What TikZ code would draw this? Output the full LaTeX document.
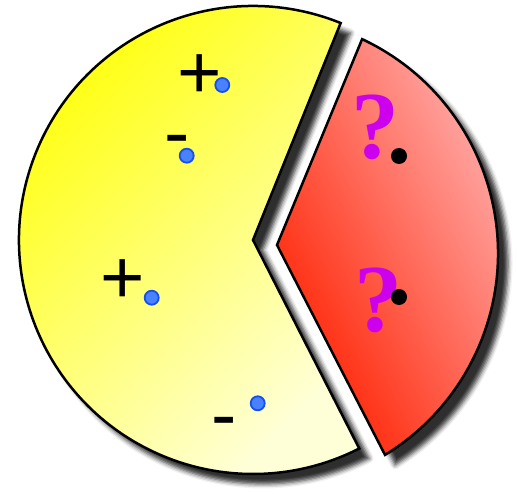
\documentclass[tikz,border=0pt]{standalone}
\usepackage{fontspec}
\usepackage{tikz}
\usetikzlibrary{calc, shadows.blur}
\newfontfamily\signfont{Liberation Sans}
\newfontfamily\qfont{Liberation Serif}
\definecolor{yellowTop}{RGB}{255,255,0}
\definecolor{yellowBot}{RGB}{255,255,215}
\definecolor{redPink}{RGB}{255,182,182}
\definecolor{redDeep}{RGB}{255,32,0}
\definecolor{ballFill}{RGB}{72,130,255}
\definecolor{ballEdge}{RGB}{22,78,240}
\definecolor{qColor}{RGB}{204,0,236}

\begin{document}
\begin{tikzpicture}[
  x=1pt, y=1pt,
  piece/.style={draw=black, line width=2.5pt,
    blur shadow={shadow xshift=10pt, shadow yshift=-10pt,
      shadow blur radius=4.5pt, shadow opacity=82}},
  ball/.style={circle, draw=ballEdge, fill=ballFill, line width=1.8pt,
    minimum size=14pt, inner sep=0pt},
  blackdot/.style={circle, fill=black, minimum size=16pt, inner sep=0pt},
  sign/.style={font=\signfont\fontsize{76}{76}\selectfont, anchor=base, inner sep=0pt},
  qmark/.style={font=\qfont\bfseries\fontsize{96}{96}\selectfont, text=qColor,
    anchor=base, inner sep=0pt}
]
  \useasboundingbox (0,0) rectangle (518,493);

  \coordinate (ycen) at (253,253);
  \coordinate (rcen) at (261.4,239.8);
  \coordinate (rtip) at (277,248);

  % the big piece
  \path[piece, top color=yellowTop, bottom color=yellowBot, shading angle=45]
    (ycen) -- ++(68:234pt) arc[start angle=68, end angle=297, radius=234pt] -- cycle;

  % the cut out wedge
  \path[piece, top color=redPink, bottom color=redDeep, shading angle=-62]
    (rtip) -- ($(rcen)+(64.8:236.6pt)$)
    arc[start angle=64.8, end angle=-58.5, radius=236.6pt] -- cycle;

  % charges
  \node[sign] (p1) at (199.3,394.7) {+};
  \node[sign] (p2) at (123,189.4) {+};
  \node[sign] (m1) at (177.5,334.2) {-};
  \node[sign] (m2) at (224.5,52.2) {-};

  \node[ball] (b1) at (222.3,408) {};
  \node[ball] (b2) at (186.7,337.3) {};
  \node[ball] (b3) at (151.7,195.3) {};
  \node[ball] (b4) at (257.7,89.7) {};

  % unknowns
  \node[qmark] (q1) at (375,334) {?};
  \node[qmark] (q2) at (378,162) {?};
  \node[blackdot] (d1) at (399,337) {};
  \node[blackdot] (d2) at (399,196) {};
\end{tikzpicture}
\end{document}
